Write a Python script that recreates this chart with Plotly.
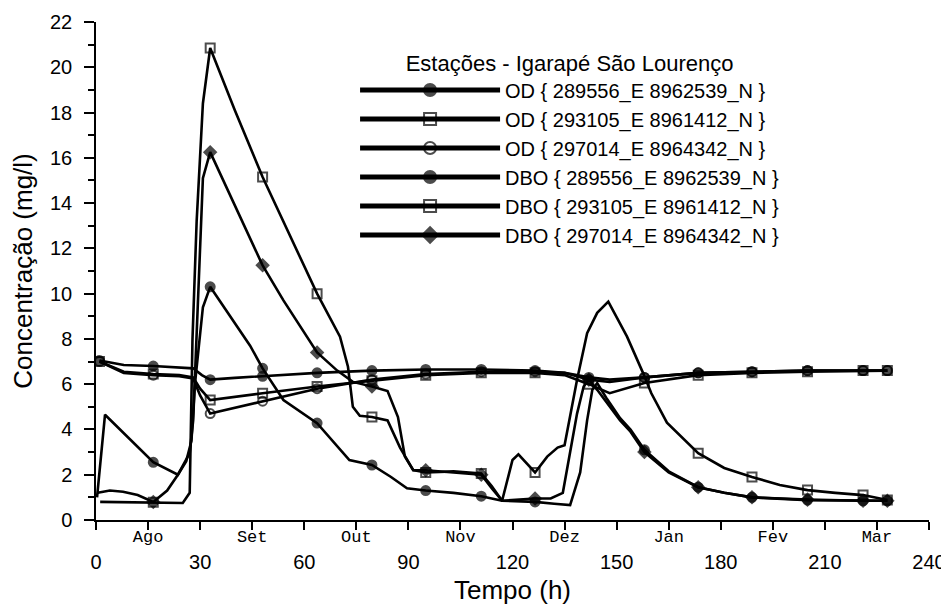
import plotly.graph_objects as go

# ---------------- data ----------------
X_TICKS = [0, 30, 60, 90, 120, 150, 180, 210, 240]
MONTH_T = [15, 45, 75, 105, 135, 165, 195, 225]
MONTHS = ["Ago", "Set", "Out", "Nov", "Dez", "Jan", "Fev", "Mar"]
MARKER_T = [1, 16.5, 32.9, 48, 63.7, 79.5, 95, 111, 126.5, 142, 158, 173.5, 189, 205, 221, 228]

od1_t = [1, 8, 16.5, 24, 28, 30.5, 32.9, 40, 48, 63.7, 79.5, 95, 111, 126.5, 135, 142, 148, 158, 173.5, 189, 205, 221, 228]
od1_v = [7.05, 6.85, 6.8, 6.75, 6.7, 6.4, 6.2, 6.28, 6.35, 6.5, 6.6, 6.65, 6.65, 6.6, 6.5, 6.3, 6.2, 6.3, 6.5, 6.55, 6.6, 6.6, 6.6]

od2_t = [1, 8, 16.5, 24, 28, 30, 32.9, 40, 48, 63.7, 79.5, 95, 111, 126.5, 135, 142, 148, 158, 173.5, 189, 205, 221, 228]
od2_v = [7.0, 6.55, 6.45, 6.4, 6.3, 5.8, 5.3, 5.45, 5.6, 5.9, 6.15, 6.4, 6.5, 6.5, 6.4, 6.0, 5.6, 6.05, 6.4, 6.5, 6.55, 6.6, 6.6]

od3_t = [1, 8, 16.5, 24, 28, 30, 32.9, 40, 48, 63.7, 79.5, 95, 111, 126.5, 135, 142, 148, 158, 173.5, 189, 205, 221, 228]
od3_v = [7.0, 6.5, 6.4, 6.35, 6.25, 5.5, 4.7, 4.95, 5.25, 5.8, 6.2, 6.45, 6.55, 6.55, 6.5, 6.2, 6.1, 6.3, 6.5, 6.55, 6.6, 6.6, 6.6]

dbo1_t = [0.3, 2.6, 16.5, 23.6, 26, 27.5, 28.5, 30.8, 32.9, 36, 40, 44.4, 48, 54, 63.7, 73, 79.5, 85, 89.6, 95, 103, 111, 117,
          126.5, 132, 136.6, 139.5, 141.5, 143, 144.4, 147, 151, 154, 158, 165, 173.5, 181, 189, 205, 221, 228]
dbo1_v = [1.0, 4.65, 2.55, 2.0, 2.6, 3.5, 6.0, 9.4, 10.3, 9.6, 8.7, 7.7, 6.7, 5.3, 4.28, 2.65, 2.43, 1.9, 1.4, 1.3, 1.2, 1.05, 0.85,
          0.8, 0.72, 0.66, 2.1, 4.4, 5.75, 6.05, 5.4, 4.5, 4.0, 3.1, 2.15, 1.45, 1.2, 1.0, 0.88, 0.85, 0.85]

dbo2_t = [1.2, 8, 16.5, 25, 27, 27.8, 29, 30, 30.8, 32.9, 40, 48, 56, 63.7, 70.3, 72.6, 74, 76, 79.5, 84, 87.6, 91.4, 95, 103, 111,
          114, 117, 120, 121.7, 126.5, 130, 133, 135, 138.6, 141.5, 144.4, 147.6, 153, 157.6, 160, 164.5, 173.5, 181, 189, 197,
          205, 213, 221, 228]
dbo2_v = [0.8, 0.78, 0.78, 0.75, 1.2, 8.0, 13.2, 16.2, 18.4, 20.85, 18.1, 15.15, 12.5, 10.0, 8.1, 6.77, 5.0, 4.6, 4.55, 4.4, 3.2, 2.2, 2.1, 2.15, 2.05,
          1.5, 0.85, 2.65, 2.9, 2.1, 2.8, 3.2, 3.3, 6.2, 8.25, 9.15, 9.65, 8.1, 6.5, 5.6, 4.3, 2.95, 2.3, 1.9, 1.55,
          1.32, 1.2, 1.1, 0.88]

dbo3_t = [0.5, 4, 7.8, 12, 16.5, 20.5, 23.6, 27, 28, 29, 30, 30.8, 32.9, 40, 48, 54, 63.7, 69.5, 74, 79.5, 84, 87, 89, 91.4, 95, 103, 111,
          114, 117, 122, 126.5, 131, 134.5, 138.6, 140.5, 142, 144.4, 151, 154, 158, 165, 173.5, 181, 189, 205, 221, 228]
dbo3_v = [1.2, 1.3, 1.25, 1.1, 0.8, 1.3, 2.0, 2.95, 4.4, 8.0, 12.0, 15.1, 16.25, 13.9, 11.25, 9.7, 7.4, 6.6, 6.1, 5.9, 5.7, 4.55, 2.8, 2.2, 2.2, 2.1, 2.0,
          1.4, 0.85, 0.9, 0.95, 0.95, 1.2, 4.7, 5.9, 6.2, 5.75, 4.4, 3.9, 3.0, 2.1, 1.45, 1.2, 1.0, 0.9, 0.85, 0.85]

NAMES = [
    "OD { 289556_E 8962539_N }",
    "OD { 293105_E 8961412_N }",
    "OD { 297014_E 8964342_N }",
    "DBO { 289556_E 8962539_N }",
    "DBO { 293105_E 8961412_N }",
    "DBO { 297014_E 8964342_N }",
]
SERIES = [(od1_t, od1_v), (od2_t, od2_v), (od3_t, od3_v), (dbo1_t, dbo1_v), (dbo2_t, dbo2_v), (dbo3_t, dbo3_v)]
SYMBOLS = ["circle", "square-open", "circle-open", "circle", "square-open", "diamond"]

FONT = "Liberation Sans"

fig = go.Figure()
for name, (t, v), sym in zip(NAMES, SERIES, SYMBOLS):
    sizes = [9 if any(abs(ti - m) < 0.05 for m in MARKER_T) else 0 for ti in t]
    fig.add_trace(go.Scatter(
        x=t, y=v, name=name, mode="lines+markers",
        line=dict(color="black", width=2.6),
        marker=dict(symbol=sym, size=sizes, color="black", line=dict(color="black", width=2)),
    ))

# dummy trace to carry the month axis
fig.add_trace(go.Scatter(x=[None], y=[None], xaxis="x2", showlegend=False, hoverinfo="skip"))

fig.update_layout(
    width=949, height=604,
    margin=dict(l=88, r=28, t=14, b=92),
    paper_bgcolor="white", plot_bgcolor="white",
    font=dict(family=FONT, color="black"),
    showlegend=True,
    legend=dict(
        x=0.311, y=0.960, xanchor="left", yanchor="top",
        bgcolor="rgba(0,0,0,0)", borderwidth=0,
        font=dict(family=FONT, size=20, color="black"),
        title=dict(text="Estações - Igarapé São Lourenço", side="top center",
                   font=dict(family=FONT, size=22, color="black")),
        itemwidth=140, tracegroupgap=0, itemsizing="constant",
    ),
    xaxis=dict(
        range=[0, 240], tickvals=X_TICKS, ticktext=[str(x) for x in X_TICKS],
        ticks="outside", ticklen=8, tickwidth=1.5, tickcolor="black",
        minor=dict(dtick=15, tick0=0, ticks="outside", ticklen=8, tickwidth=1.5, tickcolor="black"),
        showline=True, linecolor="black", linewidth=1.5, showgrid=False, zeroline=False,
        tickfont=dict(family=FONT, size=20, color="black"),
        ticklabelstandoff=15, automargin=False,
        title=dict(text="Tempo (h)", font=dict(family=FONT, size=26, color="black"), standoff=9),
    ),
    xaxis2=dict(
        overlaying="x", anchor="y", side="bottom", range=[0, 240],
        tickvals=MONTH_T, ticktext=MONTHS, ticks="", showline=False, showgrid=False, zeroline=False,
        tickfont=dict(family="Liberation Mono", size=17, color="black"),
        ticklabelstandoff=4, automargin=False,
    ),
    yaxis=dict(
        range=[0, 22], dtick=2, tick0=0,
        ticks="outside", ticklen=10, tickwidth=1.5, tickcolor="black",
        minor=dict(dtick=1, tick0=0, ticks="outside", ticklen=6, tickwidth=1.5, tickcolor="black"),
        showline=True, linecolor="black", linewidth=1.5, showgrid=False, zeroline=False,
        tickfont=dict(family=FONT, size=20, color="black"),
        ticklabelstandoff=8, automargin=False,
        title=dict(text="Concentração (mg/l)", font=dict(family=FONT, size=26, color="black"), standoff=15),
    ),
)

fig.write_html("out.html")
